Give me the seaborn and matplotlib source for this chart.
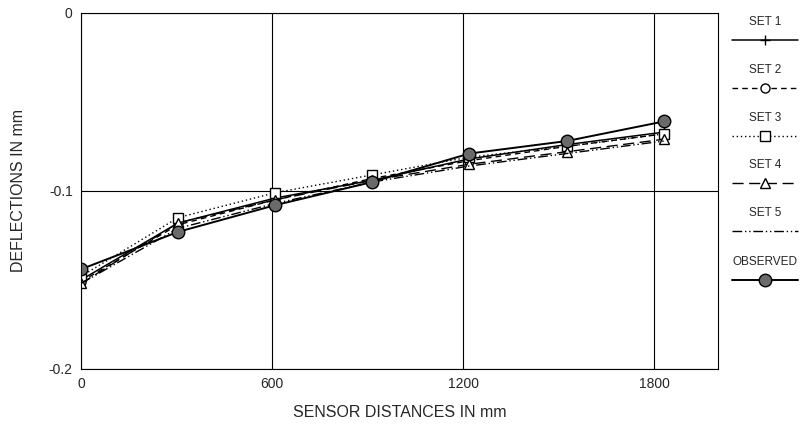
import pandas as pd
import matplotlib.pyplot as plt
import seaborn as sns
from matplotlib.lines import Line2D

# sensor spacing of 305 mm
distances = [0, 305, 610, 915, 1220, 1525, 1830]
set1 = [-0.150, -0.118, -0.104, -0.094, -0.082, -0.074, -0.067]
set2 = [-0.151, -0.119, -0.105, -0.093, -0.083, -0.075, -0.068]
set3 = [-0.148, -0.115, -0.101, -0.091, -0.081, -0.075, -0.068]
set4 = [-0.152, -0.118, -0.105, -0.094, -0.085, -0.078, -0.071]
set5 = [-0.152, -0.121, -0.107, -0.095, -0.086, -0.079, -0.072]
observed = [-0.144, -0.123, -0.108, -0.095, -0.079, -0.072, -0.061]

labels = ['SET 1', 'SET 2', 'SET 3', 'SET 4', 'SET 5', 'OBSERVED']
series = [set1, set2, set3, set4, set5, observed]

styles = [
    dict(linestyle='-', marker='+', mfc='none', ms=7, lw=1.1),
    dict(linestyle=(0, (4, 3)), marker='o', mfc='white', ms=6.5, lw=1.0),
    dict(linestyle=(0, (1, 2)), marker='s', mfc='white', ms=7, lw=1.0),
    dict(linestyle=(0, (8, 4)), marker='^', mfc='white', ms=6.5, lw=1.0),
    dict(linestyle=(0, (7, 2, 1, 2, 1, 2)), marker=None, mfc='none', ms=0, lw=1.0),
    dict(linestyle='-', marker='o', mfc='#6a6a6a', ms=9, lw=1.4),
]

df = pd.DataFrame({'distance': distances * len(labels),
                   'deflection': sum(series, []),
                   'set': [l for l in labels for _ in distances]})

sns.set_style('white')
plt.rcParams['font.family'] = ['Liberation Sans', 'DejaVu Sans']

fig = plt.figure(figsize=(8.02, 4.30), dpi=100)
ax = fig.add_axes([0.101, 0.142, 0.794, 0.828])

for lab, st in zip(labels, styles):
    sub = df[df['set'] == lab]
    sns.lineplot(x='distance', y='deflection', data=sub, ax=ax, color='black',
                 linestyle=st['linestyle'], marker=st['marker'], markersize=st['ms'],
                 markerfacecolor=st['mfc'], markeredgecolor='black', markeredgewidth=1.0,
                 linewidth=st['lw'], legend=False)

ax.set_xlim(0, 2000)
ax.set_ylim(-0.2, 0)
ax.set_xticks([0, 600, 1200, 1800])
ax.set_yticks([0, -0.1, -0.2])
ax.set_yticklabels(['0', '-0.1', '-0.2'])
ax.grid(True, color='black', linewidth=0.8)
ax.tick_params(length=0, labelsize=10, pad=6)
for s in ax.spines.values():
    s.set_color('black')
    s.set_linewidth(0.8)
ax.set_xlabel('SENSOR DISTANCES IN mm', fontsize=11.5, labelpad=10)
ax.set_ylabel('DEFLECTIONS IN mm', fontsize=11.5, labelpad=16)

# legend with label above each line sample
lax = fig.add_axes([0.905, 0.3, 0.095, 0.7])
lax.set_xlim(0, 1)
lax.set_ylim(0, 1)
lax.axis('off')
ytext = [0.927, 0.767, 0.608, 0.452, 0.292, 0.130]
for lab, st, yt in zip(labels, styles, ytext):
    yl = yt - 0.06
    lax.text(0.52, yt, lab, ha='center', va='center', fontsize=8.5)
    lax.add_line(Line2D([0.08, 0.95], [yl, yl], color='black', linestyle=st['linestyle'],
                        linewidth=st['lw']))
    if st['marker']:
        lax.add_line(Line2D([0.52], [yl], color='black', linestyle='none', marker=st['marker'],
                            markersize=st['ms'], markerfacecolor=st['mfc'],
                            markeredgecolor='black', markeredgewidth=1.0))

fig.savefig('out.png', dpi=100)
